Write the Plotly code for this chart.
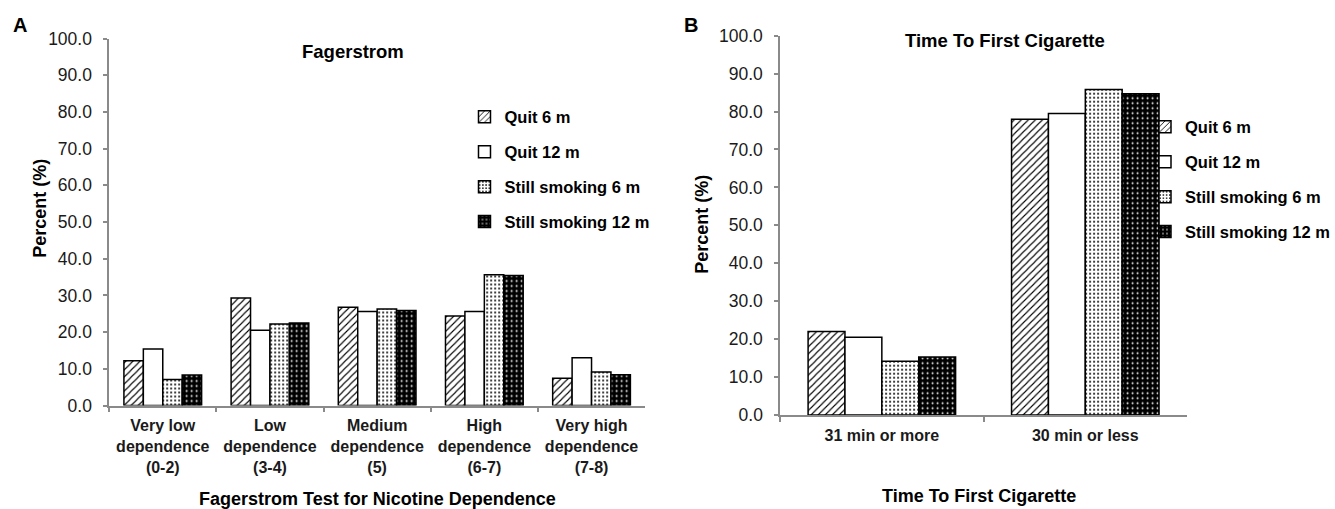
import plotly.graph_objects as go

W, H = 1335, 509

series = ["Quit 6 m", "Quit 12 m", "Still smoking 6 m", "Still smoking 12 m"]

fager_cats = ["Very low<br>dependence<br>(0-2)", "Low<br>dependence<br>(3-4)",
              "Medium<br>dependence<br>(5)", "High<br>dependence<br>(6-7)",
              "Very high<br>dependence<br>(7-8)"]
fager_quit6 = [12.2, 29.3, 26.8, 24.4, 7.4]
fager_quit12 = [15.4, 20.5, 25.6, 25.6, 13.0]
fager_ss6 = [7.1, 22.2, 26.3, 35.6, 9.1]
fager_ss12 = [8.3, 22.5, 25.9, 35.4, 8.4]

ttfc_cats = ["31 min or more", "30 min or less"]
ttfc_quit6 = [22.0, 78.0]
ttfc_quit12 = [20.5, 79.5]
ttfc_ss6 = [14.2, 85.8]
ttfc_ss12 = [15.3, 84.7]

y_ticks = [0, 10, 20, 30, 40, 50, 60, 70, 80, 90, 100]

FONT = "Arial, Liberation Sans, sans-serif"

patterns = [
    dict(shape="/", fgcolor="black", bgcolor="white", size=5, solidity=0.22, fillmode="replace"),
    dict(shape="", fgcolor="white", bgcolor="white"),
    dict(shape=".", fgcolor="black", bgcolor="white", size=4, solidity=0.2, fillmode="replace"),
    dict(shape=".", fgcolor="white", bgcolor="black", size=5, solidity=0.12, fillmode="replace"),
]
colors = ["white", "white", "white", "black"]

fig = go.Figure()

left_vals = [fager_quit6, fager_quit12, fager_ss6, fager_ss12]
right_vals = [ttfc_quit6, ttfc_quit12, ttfc_ss6, ttfc_ss12]

for i, name in enumerate(series):
    fig.add_trace(go.Bar(
        x=fager_cats, y=left_vals[i], name=name, xaxis="x", yaxis="y",
        marker=dict(color=colors[i], pattern=patterns[i], line=dict(color="black", width=1.5)),
        legend="legend", legendgroup="l" + str(i), showlegend=True,
    ))
for i, name in enumerate(series):
    fig.add_trace(go.Bar(
        x=ttfc_cats, y=right_vals[i], name=name, xaxis="x2", yaxis="y2",
        marker=dict(color=colors[i], pattern=patterns[i], line=dict(color="black", width=1.5)),
        legend="legend2", legendgroup="r" + str(i), showlegend=True,
    ))

def px(x):
    return x / W

def py(y):
    return 1 - y / H

axis_line = "#8a8a8a"
tickfont = dict(family=FONT, size=17.5, color="#1a1a1a")
cattickfont = dict(family=FONT, size=16, color="#1a1a1a", weight="bold")

common_y = dict(range=[0, 100], tickvals=y_ticks, tickformat=".1f", showgrid=False,
                zeroline=False, showline=True, linecolor=axis_line, linewidth=1.5,
                ticks="outside", ticklen=4, tickcolor=axis_line, tickwidth=1.5,
                tickfont=tickfont, automargin=False, ticklabelstandoff=8, fixedrange=True)
common_x = dict(type="category", showgrid=False, zeroline=False, showline=True,
                linecolor=axis_line, linewidth=1.5, ticks="outside", ticklen=5,
                tickcolor=axis_line, tickwidth=1.5, tickson="boundaries",
                tickfont=cattickfont, automargin=False, fixedrange=True,
                ticklabelstandoff=5)

legfont = dict(family=FONT, size=16.5, color="black", weight="bold")

fig.update_layout(
    width=W, height=H,
    margin=dict(l=0, r=0, t=0, b=0),
    paper_bgcolor="white", plot_bgcolor="white",
    barmode="group", bargap=0.275, bargroupgap=0,
    font=dict(family=FONT, color="black"),
    xaxis=dict(domain=[px(110), px(650)], anchor="y", range=[-0.5, 4.5], **common_x),
    yaxis=dict(domain=[py(405.5), py(38.5)], anchor="x", **common_y),
    xaxis2=dict(domain=[px(786), px(1196)], anchor="y2", range=[-0.5, 1.5], **common_x),
    yaxis2=dict(domain=[py(415), py(35.7)], anchor="x2", **common_y),
    legend=dict(x=px(468), y=py(99.5), xanchor="left", yanchor="top",
                bgcolor="rgba(0,0,0,0)", tracegroupgap=10.5, font=legfont),
    legend2=dict(x=px(1154), y=py(109.5), xanchor="left", yanchor="top",
                 bgcolor="rgba(0,0,0,0)", tracegroupgap=10.5, font=legfont),
)

ann = []
def text(x, y, s, size, angle=0, bold=True, xanchor="center"):
    ann.append(dict(x=px(x), y=py(y), xref="paper", yref="paper", text=s, showarrow=False,
                    xanchor=xanchor, yanchor="middle", textangle=angle,
                    font=dict(family=FONT, size=size, color="black",
                              weight="bold" if bold else "normal")))

text(20, 25, "A", 20)
text(696, 25, "B", 20)
text(356, 51, "Fagerstrom", 18.5)
text(1013, 40, "Time To First Cigarette", 18.5)
text(380, 499, "Fagerstrom Test for Nicotine Dependence", 18)
text(986, 496, "Time To First Cigarette", 18)
text(40, 208, "Percent (%)", 18, angle=-90)
text(707, 224, "Percent (%)", 18, angle=-90)
fig.update_layout(annotations=ann)

fig.write_html("out.html")
